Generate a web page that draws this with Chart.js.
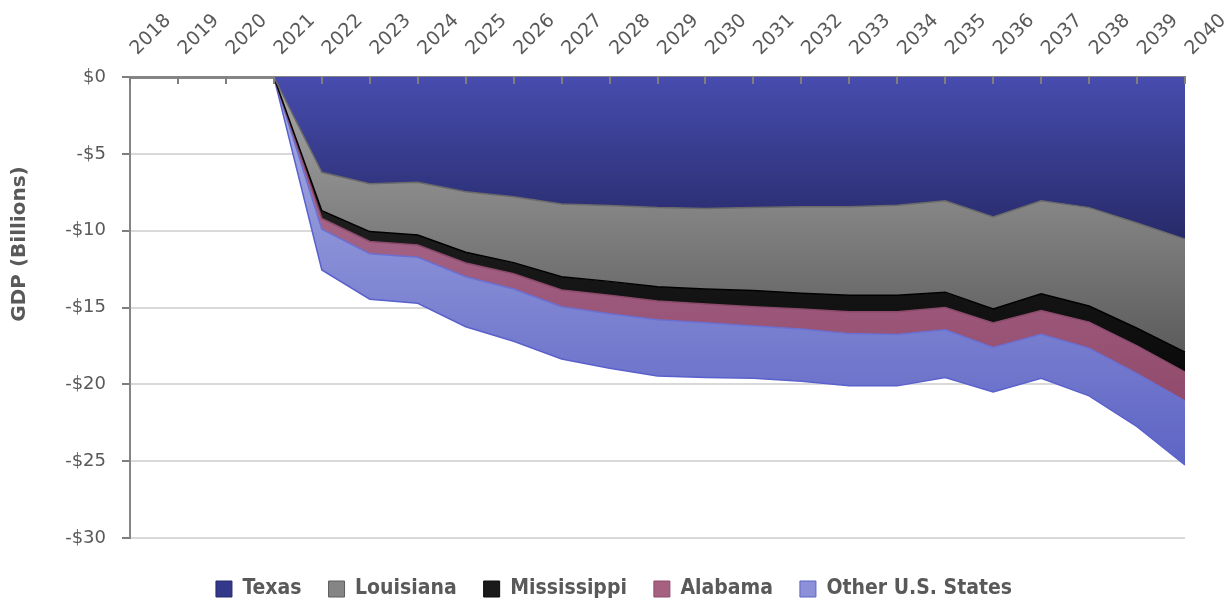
<!DOCTYPE html>
<html>
<head>
<meta charset="utf-8">
<script src="https://cdn.jsdelivr.net/npm/chart.js@4.4.1/dist/chart.umd.min.js"></script>
<style>
  html, body { margin: 0; padding: 0; background: #fff; }
  #wrap { width: 1228px; height: 598px; }
</style>
</head>
<body>
<div id="wrap"><canvas id="gdpChart"></canvas></div>
<script>
// Data (GDP change, billions)
const years = ['2018', '2019', '2020', '2021', '2022', '2023', '2024', '2025', '2026', '2027', '2028',
  '2029', '2030', '2031', '2032', '2033', '2034', '2035', '2036', '2037', '2038', '2039', '2040'];

const texas = [null, null, null, 0, -6.2, -6.94, -6.85, -7.46, -7.79, -8.26, -8.37, -8.5, -8.55, -8.5,
  -8.45, -8.45, -8.35, -8.05, -9.1, -8.05, -8.5, -9.5, -10.55];
const louisiana = [null, null, null, 0, -2.5, -3.12, -3.43, -3.94, -4.29, -4.74, -4.93, -5.15, -5.25, -5.4,
  -5.62, -5.75, -5.85, -5.95, -6.0, -6.05, -6.4, -6.85, -7.35];
const mississippi = [null, null, null, 0, -0.5, -0.64, -0.65, -0.7, -0.72, -0.86, -0.9, -0.92, -0.97, -1.05,
  -1.03, -1.07, -1.07, -1.0, -0.9, -1.1, -1.05, -1.15, -1.3];
const alabama = [null, null, null, 0, -0.7, -0.8, -0.8, -0.9, -1.0, -1.09, -1.2, -1.23, -1.23, -1.25,
  -1.3, -1.43, -1.48, -1.45, -1.6, -1.55, -1.7, -1.8, -1.9];
const otherStates = [null, null, null, 0, -2.66, -2.96, -3.0, -3.25, -3.4, -3.4, -3.55, -3.65, -3.55, -3.4,
  -3.4, -3.4, -3.35, -3.1, -2.9, -2.85, -3.1, -3.45, -4.15];

const yTicks = [0, -5, -10, -15, -20, -25, -30];

const textColor = '#595959';
const legendFontSize = 21;
const legendPad = 27;

// series styling: gradient top / bottom, outline, legend swatch
const series = [
  { label: 'Texas', data: texas, top: '#474cae', bottom: '#272a69', line: '#6a6a6a', swatch: '#33388a' },
  { label: 'Louisiana', data: louisiana, top: '#a8a8a8', bottom: '#5c5c5c', line: '#000000', swatch: '#858585' },
  { label: 'Mississippi', data: mississippi, top: '#303030', bottom: '#0a0a0a', line: '#8a4a6a', swatch: '#1a1a1a' },
  { label: 'Alabama', data: alabama, top: '#b4789a', bottom: '#914a6c', line: '#6a70d2', swatch: '#a5617f' },
  { label: 'Other U.S. States', data: otherStates, top: '#aab0e4', bottom: '#5d64c4', line: '#5a61cc', swatch: '#8b90d8' }
];

// vertical extent of each band (upper edge max, lower edge min) for the gradients
let running = years.map(() => 0);
series.forEach(s => {
  const upper = running.slice();
  running = running.map((v, i) => v + (s.data[i] || 0));
  s.hi = Math.max(...upper.map((v, i) => (s.data[i] === null ? -Infinity : v)));
  s.lo = Math.min(...running);
});

function bandFill(s) {
  return (ctx) => {
    const chart = ctx.chart;
    const y = chart.scales.y;
    if (!chart.chartArea || !y) return s.swatch;
    const g = chart.ctx.createLinearGradient(0, y.getPixelForValue(s.hi), 0, y.getPixelForValue(s.lo));
    g.addColorStop(0, s.top);
    g.addColorStop(1, s.bottom);
    return g;
  };
}

// inward tick marks on the top category axis
const topTicks = {
  id: 'topTicks',
  afterDatasetsDraw(chart) {
    const x = chart.scales.x;
    const c = chart.ctx;
    c.save();
    c.strokeStyle = '#7f7f7f';
    c.lineWidth = 2;
    x.ticks.forEach((t, i) => {
      const px = Math.round(x.getPixelForTick(i));
      c.beginPath();
      c.moveTo(px, chart.chartArea.top);
      c.lineTo(px, chart.chartArea.top + 7);
      c.stroke();
    });
    c.restore();
  }
};

// legend: short band, centred on the full canvas, text near the bottom edge;
// y title nudged up like the original
const layoutTweaks = {
  id: 'layoutTweaks',
  beforeInit(chart) {
    const lg = chart.legend;
    if (!lg) return;
    const fit = lg.fit.bind(lg);
    lg.fit = function () {
      fit();
      this.height = 60;
    };
  },
  beforeDraw(chart) {
    const lg = chart.legend;
    if (lg) {
      lg.left = 0;
      lg.right = chart.width;
      lg.width = chart.width;
      lg.top = 589 - legendPad - legendFontSize / 2;
      lg.bottom = lg.top + 60;
    }
    const y = chart.scales.y;
    if (y && !y._titleShifted) {
      const orig = y.drawTitle.bind(y);
      y.drawTitle = function () {
        const b = this.bottom;
        this.bottom = b - 127;
        orig();
        this.bottom = b;
      };
      y._titleShifted = true;
    }
  }
};

new Chart(document.getElementById('gdpChart'), {
  type: 'line',
  data: {
    labels: years,
    datasets: series.map((s, i) => ({
      label: s.label,
      data: s.data,
      backgroundColor: bandFill(s),
      borderColor: s.line,
      borderWidth: 1.5,
      fill: i === 0 ? 'origin' : '-1',
      pointRadius: 0,
      tension: 0
    }))
  },
  options: {
    responsive: true,
    maintainAspectRatio: false,
    animation: false,
    layout: { padding: { left: 0, right: 43, top: 0, bottom: 0 } },
    scales: {
      x: {
        position: 'top',
        offset: false,
        grid: { display: false },
        border: { display: true, color: '#858585', width: 3 },
        ticks: {
          color: textColor,
          font: { family: 'DejaVu Sans', size: 19 },
          maxRotation: 45,
          minRotation: 45,
          autoSkip: false,
          padding: 9,
          labelOffset: 20
        },
        afterFit: (scale) => {
          scale.height = 77;
          scale.paddingLeft = 0;
          scale.paddingRight = 0;
        }
      },
      y: {
        stacked: true,
        min: -30,
        max: 0,
        afterBuildTicks: (scale) => { scale.ticks = yTicks.map(v => ({ value: v })); },
        grid: { color: '#d9d9d9', lineWidth: 2, tickLength: 8, tickColor: '#7f7f7f', drawTicks: true },
        border: { display: true, color: '#858585', width: 2 },
        ticks: {
          color: textColor,
          font: { family: 'DejaVu Sans', size: 18 },
          padding: 16,
          callback: (v) => (v === 0 ? '$0' : '-$' + Math.abs(v))
        },
        title: {
          display: true,
          text: 'GDP (Billions)',
          color: textColor,
          font: { family: 'DejaVu Sans', size: 20, weight: 'bold' },
          padding: { top: 8, bottom: 0 }
        },
        afterFit: (scale) => { scale.width = 130; }
      }
    },
    plugins: {
      legend: {
        position: 'bottom',
        labels: {
          color: textColor,
          font: { family: "'DejaVu Sans Condensed', sans-serif", size: legendFontSize, weight: 'bold' },
          boxWidth: 16,
          boxHeight: 16,
          padding: legendPad,
          generateLabels: (chart) => series.map((s, i) => ({
            text: s.label,
            fillStyle: s.swatch,
            strokeStyle: s.bottom,
            lineWidth: 1,
            fontColor: textColor,
            hidden: !chart.isDatasetVisible(i),
            datasetIndex: i
          }))
        }
      },
      tooltip: { enabled: false }
    }
  },
  plugins: [topTicks, layoutTweaks]
});
</script>
</body>
</html>
